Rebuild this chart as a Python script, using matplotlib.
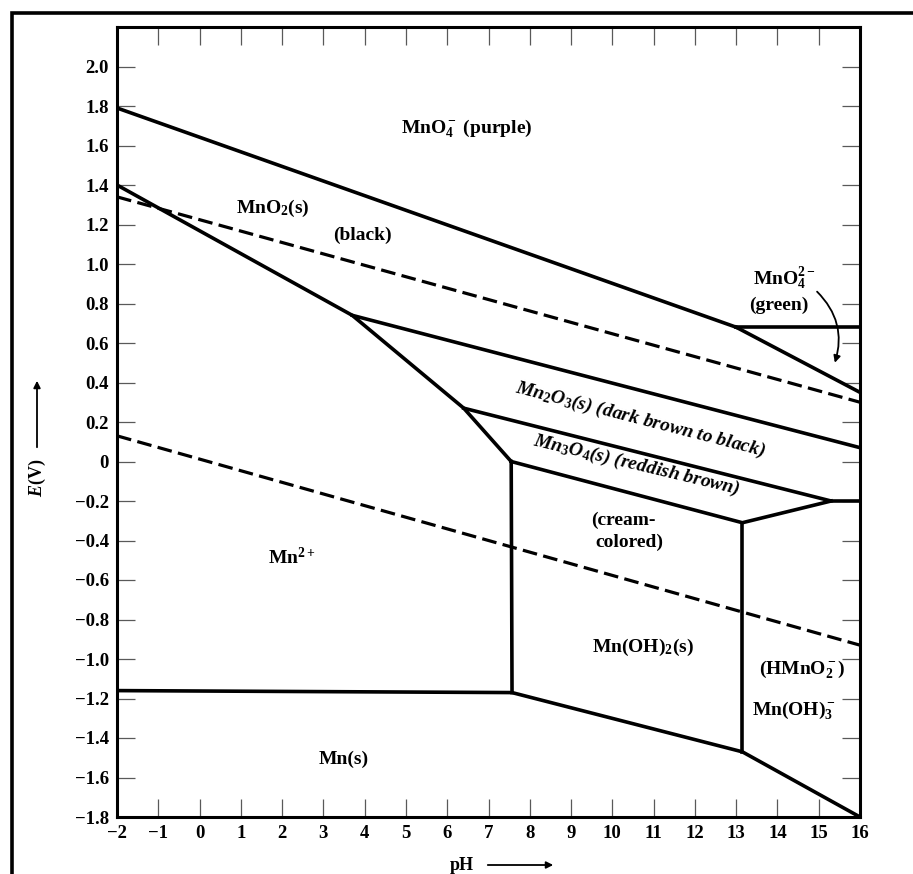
import matplotlib
matplotlib.use("Agg")
import matplotlib.pyplot as plt
from matplotlib.patches import Rectangle

plt.rcParams['font.family'] = ['Liberation Serif', 'DejaVu Serif']
plt.rcParams['font.weight'] = 'bold'
plt.rcParams['mathtext.fontset'] = 'custom'
plt.rcParams['mathtext.rm'] = 'Liberation Serif:bold'
plt.rcParams['mathtext.it'] = 'Liberation Serif:italic:bold'
plt.rcParams['mathtext.bf'] = 'Liberation Serif:bold'

# boundary lines (pH, E in volts)
mno4_mno2_ph = [-2, 13.0]
mno4_mno2_e = [1.79, 0.68]
mno4_mno42_ph = [13.0, 16]
mno4_mno42_e = [0.68, 0.68]
mno42_mno2_ph = [13.0, 16]
mno42_mno2_e = [0.68, 0.35]
mno2_mn2_ph = [-2, 3.7, 6.4, 7.55]
mno2_mn2_e = [1.40, 0.74, 0.27, 0.0]
mno2_mn2o3_ph = [3.7, 16]
mno2_mn2o3_e = [0.74, 0.07]
mn2o3_mn3o4_ph = [6.4, 15.3, 16]
mn2o3_mn3o4_e = [0.27, -0.20, -0.20]
mn3o4_low_ph = [7.55, 13.15, 15.3]
mn3o4_low_e = [0.0, -0.31, -0.20]
mn2_mnoh2_ph = [7.55, 7.57]
mn2_mnoh2_e = [0.0, -1.17]
mnoh2_hmno2_ph = [13.15, 13.15]
mnoh2_hmno2_e = [-0.31, -1.47]
mn_metal_ph = [-2, 7.57, 13.15, 16]
mn_metal_e = [-1.16, -1.17, -1.47, -1.8]
o2_ph = [-2, 16]
o2_e = [1.34, 0.30]
h2_ph = [-2, 16]
h2_e = [0.13, -0.93]

xticks = list(range(-2, 17))
yticks = [round(-1.8 + 0.2 * i, 1) for i in range(20)]

fig = plt.figure(figsize=(9.13, 8.74), dpi=100)
ax = fig.add_axes([117/913, 57/874, 743/913, 790/874])

solid = dict(color='k', lw=2.6, solid_joinstyle='miter')
for xs, ys in [(mno4_mno2_ph, mno4_mno2_e), (mno4_mno42_ph, mno4_mno42_e),
               (mno42_mno2_ph, mno42_mno2_e), (mno2_mn2_ph, mno2_mn2_e),
               (mno2_mn2o3_ph, mno2_mn2o3_e), (mn2o3_mn3o4_ph, mn2o3_mn3o4_e),
               (mn3o4_low_ph, mn3o4_low_e), (mn2_mnoh2_ph, mn2_mnoh2_e),
               (mnoh2_hmno2_ph, mnoh2_hmno2_e), (mn_metal_ph, mn_metal_e)]:
    ax.plot(xs, ys, **solid)
for xs, ys in [(o2_ph, o2_e), (h2_ph, h2_e)]:
    ax.plot(xs, ys, color='k', lw=2.3, linestyle=(0, (4.6, 2.0)))

ax.set_xlim(-2, 16)
ax.set_ylim(-1.8, 2.2)
ax.set_xticks(xticks)
ax.set_xticklabels([str(t).replace('-', '\u2212') for t in xticks])
ax.set_yticks(yticks)
ax.set_yticklabels(['0' if t == 0 else f"{t:.1f}".replace('-', '\u2212') for t in yticks])
ax.tick_params(direction='in', length=13, width=0.9, color='0.35',
               top=True, right=True, labelsize=13.5, pad=6)
for s in ax.spines.values():
    s.set_linewidth(2.2)

# region labels
lab = dict(ha='center', va='center', fontsize=14)
ax.text(6.48, 1.69, r"MnO$_4^-$ (purple)", **lab)
ax.text(1.77, 1.28, r"MnO$_2$(s)", **lab)
ax.text(3.94, 1.145, "(black)", **lab)
ax.text(14.17, 0.925, r"MnO$_4^{2-}$", **lab)
ax.text(14.04, 0.79, "(green)", **lab)
ax.text(10.67, 0.213, r"Mn$_2$O$_3$(s) (dark brown to black)", rotation=-14.4,
        style='italic', rotation_mode='anchor', **lab)
ax.text(10.58, -0.02, r"Mn$_3$O$_4$(s) (reddish brown)", rotation=-13.4,
        style='italic', rotation_mode='anchor', **lab)
ax.text(10.26, -0.30, "(cream-", **lab)
ax.text(10.42, -0.41, "colored)", **lab)
ax.text(10.74, -0.94, r"Mn(OH)$_2$(s)", **lab)
ax.text(14.6, -1.05, r"(HMnO$_2^-$)", **lab)
ax.text(14.39, -1.26, r"Mn(OH)$_3^-$", **lab)
ax.text(2.23, -0.485, r"Mn$^{2+}$", **lab)
ax.text(3.5, -1.51, "Mn(s)", **lab)

ax.annotate('', xy=(15.39, 0.50), xytext=(14.96, 0.86),
            arrowprops=dict(arrowstyle='-|>', connectionstyle='arc3,rad=-0.3',
                            lw=1.3, color='k', shrinkA=0, shrinkB=0))

# axis titles with long arrows
fig.text(37/913, 1 - 478/874, r"$E$(V)", rotation=90, ha='center', va='center', fontsize=13)
ax.annotate('', xy=(37/913, 1 - 378/874), xytext=(37/913, 1 - 450/874),
            xycoords='figure fraction', textcoords='figure fraction',
            arrowprops=dict(arrowstyle='-|>', lw=1.3, color='k'))
fig.text(462/913, 1 - 866/874, "pH", ha='center', va='center', fontsize=13)
ax.annotate('', xy=(556/913, 1 - 865/874), xytext=(485/913, 1 - 865/874),
            xycoords='figure fraction', textcoords='figure fraction',
            arrowprops=dict(arrowstyle='-|>', lw=1.3, color='k'))

# outer frame of the scanned figure
fig.add_artist(Rectangle((12/913, -0.05), 1.2, 1 - 13/874 + 0.05,
                         transform=fig.transFigure, fill=False, lw=2.6, ec='k'))

fig.savefig("out.png", dpi=100)
